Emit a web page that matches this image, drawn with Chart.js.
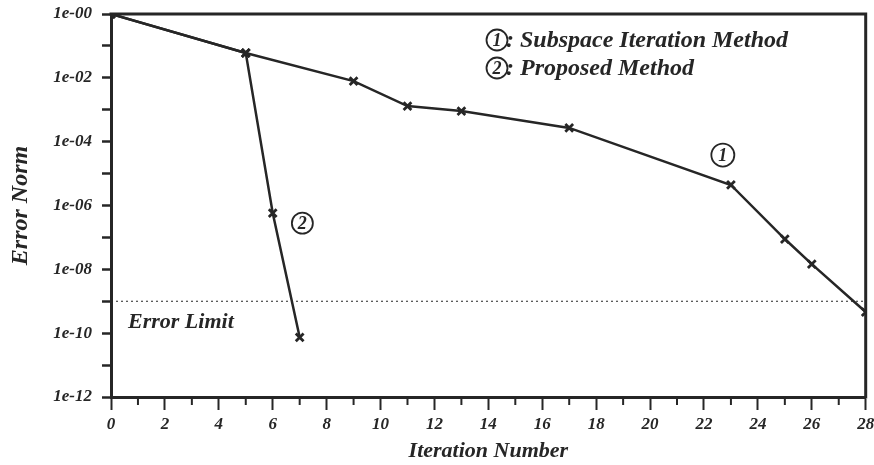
<!DOCTYPE html>
<html>
<head>
<meta charset="utf-8">
<script src="https://cdn.jsdelivr.net/npm/chart.js@4/dist/chart.umd.min.js"></script>
<style>
  html, body { margin: 0; padding: 0; background: #ffffff; }
  #wrap { width: 874px; height: 465px; }
</style>
</head>
<body>
<div id="wrap"><canvas id="c" width="874" height="465"></canvas></div>
<script>
// ---- data ----
const iterationsSubspace = [0, 5, 9, 11, 13, 17, 23, 25, 26, 28];
const errorsSubspace     = [1, 6.0e-2, 7.9e-3, 1.3e-3, 9.1e-4, 2.7e-4, 4.4e-6, 8.9e-8, 1.45e-8, 4.6e-10];
const iterationsProposed = [0, 5, 6, 7];
const errorsProposed     = [1, 6.0e-2, 5.8e-7, 7.4e-11];
const errorLimit = 1e-9;
const errorLimitRange = [0, 28];
const yTickExponents = [0, 1, 2, 3, 4, 5, 6, 7, 8, 9, 10, 11, 12];
const xMinorTicks = [1, 3, 5, 7, 9, 11, 13, 15, 17, 19, 21, 23, 25, 27];
const seriesNames = ['Subspace Iteration Method', 'Proposed Method'];

const INK = '#262626';
const FONT = '"Liberation Serif", "Times New Roman", serif';

const toPts = (xs, ys) => xs.map((x, i) => ({ x: x, y: ys[i] }));

const framePlugin = {
  id: 'frame',
  afterDraw(chart) {
    const ctx = chart.ctx;
    const a = chart.chartArea;
    const xs = chart.scales.x, ys = chart.scales.y;
    ctx.save();
    ctx.strokeStyle = INK;
    ctx.lineWidth = 3;
    ctx.beginPath();
    ctx.moveTo(a.left - 1.5, a.top);
    ctx.lineTo(a.right, a.top);
    ctx.lineTo(a.right, a.bottom + 1.5);
    ctx.stroke();
    // minor x ticks
    ctx.lineWidth = 2;
    xMinorTicks.forEach(v => {
      const px = xs.getPixelForValue(v);
      ctx.beginPath();
      ctx.moveTo(px, a.bottom);
      ctx.lineTo(px, a.bottom + 8);
      ctx.stroke();
    });
    // circled annotations
    const circ = (cx, cy, r, num) => {
      ctx.lineWidth = 1.8;
      ctx.beginPath();
      ctx.arc(cx, cy, r, 0, Math.PI * 2);
      ctx.stroke();
      ctx.fillStyle = INK;
      ctx.font = 'italic bold 18px ' + FONT;
      ctx.textAlign = 'center';
      ctx.textBaseline = 'middle';
      ctx.fillText(num, cx, cy + 1);
    };
    circ(xs.getPixelForValue(22.7), ys.getPixelForValue(3.8e-5), 11.5, '1');
    circ(xs.getPixelForValue(7.1), ys.getPixelForValue(2.8e-7), 10.5, '2');
    // legend
    const lx = 497, ly1 = 40, ly2 = 68;
    circ(lx, ly1, 10.5, '1');
    circ(lx, ly2, 10.5, '2');
    ctx.font = 'italic bold 24px ' + FONT;
    ctx.textAlign = 'left';
    ctx.textBaseline = 'middle';
    ctx.fillText(': ' + seriesNames[0], lx + 9, ly1 + 1);
    ctx.fillText(': ' + seriesNames[1], lx + 9, ly2 + 1);
    // error limit label
    ctx.font = 'italic bold 22px ' + FONT;
    ctx.fillText('Error Limit', 128, ys.getPixelForValue(2.2e-10));
    ctx.restore();
  }
};

new Chart(document.getElementById('c'), {
  type: 'line',
  data: {
    datasets: [
      {
        label: seriesNames[0],
        data: toPts(iterationsSubspace, errorsSubspace),
        borderColor: INK, backgroundColor: INK,
        borderWidth: 2.5, pointStyle: 'crossRot', pointRadius: 5.5,
        pointBorderWidth: 2.8, tension: 0
      },
      {
        label: seriesNames[1],
        data: toPts(iterationsProposed, errorsProposed),
        borderColor: INK, backgroundColor: INK,
        borderWidth: 2.5, pointStyle: 'crossRot', pointRadius: 5.5,
        pointBorderWidth: 2.8, tension: 0
      },
      {
        label: 'Error Limit',
        data: errorLimitRange.map(x => ({ x: x, y: errorLimit })),
        borderColor: INK, borderWidth: 1.2, borderDash: [2, 3],
        pointRadius: 0
      }
    ]
  },
  options: {
    responsive: false,
    animation: false,
    layout: { padding: { top: 14, right: 6, left: 0, bottom: 0 } },
    plugins: { legend: { display: false }, tooltip: { enabled: false } },
    scales: {
      x: {
        type: 'linear', min: 0, max: 28,
        ticks: {
          stepSize: 2, autoSkip: false, maxRotation: 0, padding: 4,
          color: INK, font: { family: FONT, size: 17, style: 'italic', weight: 'bold' }
        },
        grid: { drawOnChartArea: false, tickLength: 13, tickWidth: 2, tickColor: INK },
        border: { color: INK, width: 3 },
        title: {
          display: true, text: 'Iteration Number', color: INK,
          font: { family: FONT, size: 22, style: 'italic', weight: 'bold' },
          padding: { top: 0, bottom: 0 }
        },
        afterFit: s => { s.height = 68; s.paddingLeft = 0; s.paddingRight = 0; }
      },
      y: {
        type: 'logarithmic', min: 1e-12, max: 1,
        afterBuildTicks: s => { s.ticks = yTickExponents.map(k => ({ value: Math.pow(10, -k) })); },
        ticks: {
          autoSkip: false, padding: 10, color: INK,
          font: { family: FONT, size: 17, style: 'italic', weight: 'bold' },
          callback: function (v) {
            const k = Math.round(-Math.log10(v));
            return (k % 2 === 0) ? '1e-' + String(k).padStart(2, '0') : '';
          }
        },
        grid: { drawOnChartArea: false, tickLength: 9, tickWidth: 2.5, tickColor: INK },
        border: { color: INK, width: 3 },
        title: {
          display: true, text: 'Error Norm', color: INK,
          font: { family: FONT, size: 24, style: 'italic', weight: 'bold' },
          padding: { top: 6, bottom: 0 }
        },
        afterFit: s => { s.width = 111; s.paddingTop = 0; s.paddingBottom = 0; }
      }
    }
  },
  plugins: [framePlugin]
});
</script>
</body>
</html>
